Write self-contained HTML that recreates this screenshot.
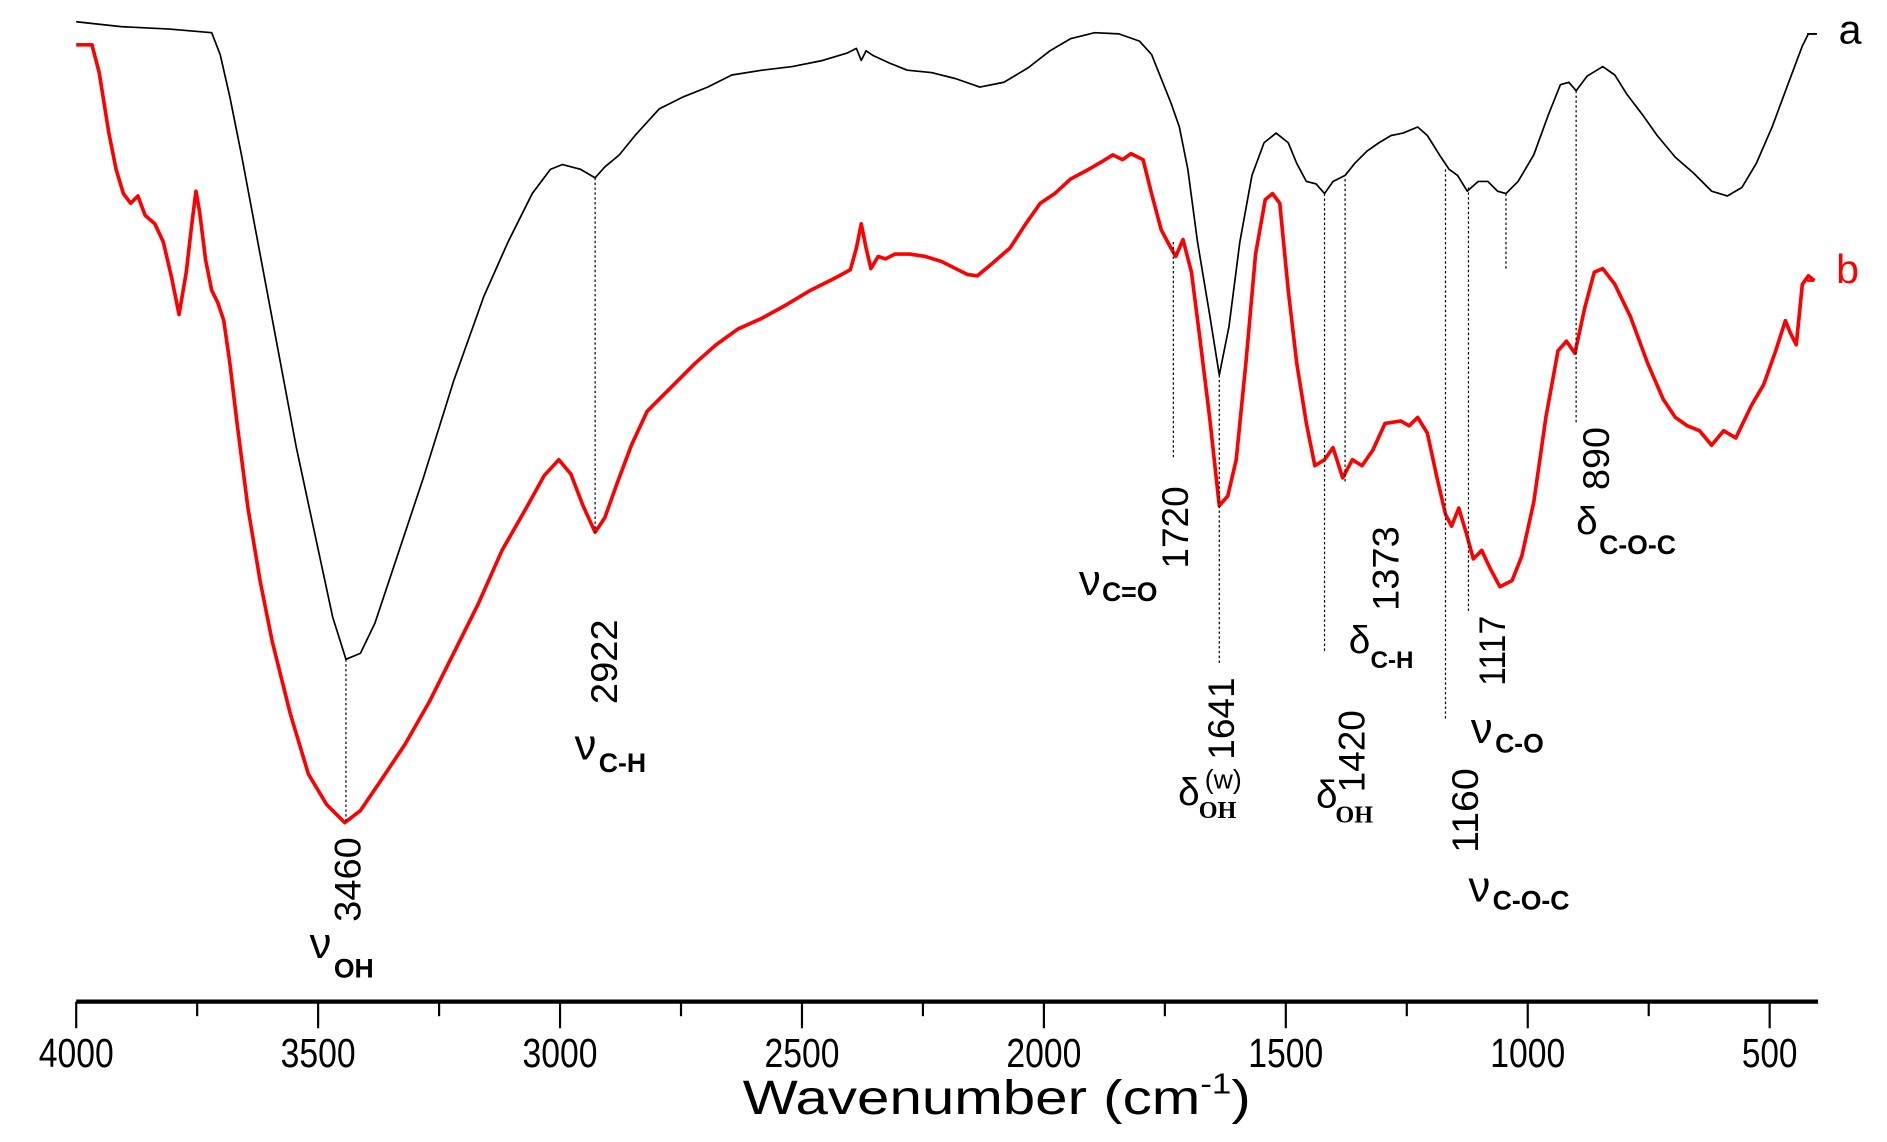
<!DOCTYPE html>
<html><head><meta charset="utf-8"><style>html,body{margin:0;padding:0;background:#fff}svg{display:block}</style></head>
<body>
<svg width="1887" height="1142" viewBox="0 0 1560 944" preserveAspectRatio="none" xmlns="http://www.w3.org/2000/svg" font-family="Liberation Sans, sans-serif">
<rect width="1560" height="944" fill="#fff"/>
<polyline fill="none" stroke="#000" stroke-width="1.4" stroke-linejoin="round" points="63,18 100,22 140,24 175,27 182,45 190,80 200,130 215,210 230,290 245,370 260,440 275,510 286,545 298,540 310,515 330,455 350,395 375,315 400,245 420,200 440,160 455,140 465,136 480,140 492,147 500,138 512,128 525,112 545,90 565,80 585,72 605,62 630,58 655,55 680,50 700,44 708,40 712,50 716,42 722,46 735,52 750,58 770,60 790,65 810,72 830,68 850,56 868,42 885,32 905,27 925,28 942,34 952,45 960,65 968,85 975,105 982,140 990,200 1000,260 1008,310 1016,270 1025,200 1035,145 1045,118 1055,110 1065,118 1072,135 1080,150 1088,152 1095,160 1102,150 1112,145 1120,135 1130,125 1140,118 1150,112 1160,110 1172,105 1180,112 1190,128 1198,140 1205,145 1213,158 1222,150 1230,150 1238,158 1245,160 1255,150 1268,128 1280,95 1290,70 1297,68 1303,75 1312,63 1325,55 1335,62 1345,78 1358,95 1370,112 1385,130 1400,143 1415,158 1428,162 1440,155 1452,135 1465,105 1478,70 1490,38 1495,28 1502,28"/>
<polyline fill="none" stroke="#f00" stroke-width="3" stroke-linejoin="round" points="63,37 76,37 82,60 90,110 96,140 102,160 108,168 114,162 120,178 128,185 135,200 142,230 148,260 154,225 158,190 162,158 165,175 170,215 175,240 180,250 185,265 190,300 196,350 205,420 215,480 225,530 240,590 255,640 270,665 285,680 298,670 315,645 335,615 355,580 375,540 395,500 415,455 435,420 450,393 462,380 472,392 482,418 492,440 500,428 510,400 522,368 535,340 548,327 560,315 575,300 592,285 610,272 630,263 650,252 670,240 690,230 703,223 708,205 712,185 716,205 720,222 726,212 732,214 740,210 752,210 765,212 778,216 790,222 800,227 808,228 820,218 835,205 848,185 860,168 872,160 885,148 900,140 912,133 920,128 928,132 935,127 945,132 952,160 960,190 968,205 972,212 978,198 985,225 992,280 1000,345 1008,418 1015,410 1022,380 1030,300 1038,210 1046,165 1052,160 1058,168 1065,240 1072,300 1080,350 1087,385 1095,380 1102,370 1110,395 1118,380 1126,385 1135,372 1145,350 1158,348 1165,352 1172,345 1180,358 1188,395 1195,425 1200,435 1206,420 1212,440 1218,462 1225,455 1232,470 1240,485 1250,480 1258,460 1268,415 1278,345 1288,290 1295,282 1302,292 1310,255 1318,225 1325,222 1335,235 1348,262 1362,300 1375,330 1385,345 1395,352 1405,356 1415,368 1425,356 1435,362 1448,335 1458,318 1468,290 1476,265 1480,275 1485,285 1490,235 1495,228 1500,232"/>
<g stroke="#000" stroke-width="1" stroke-dasharray="2,2" fill="none">
<line x1="286" y1="545" x2="286" y2="680"/>
<line x1="492" y1="147" x2="492" y2="440"/>
<line x1="970" y1="200" x2="970" y2="380"/>
<line x1="1008" y1="310" x2="1008" y2="548"/>
<line x1="1095" y1="160" x2="1095" y2="540"/>
<line x1="1112" y1="148" x2="1112" y2="400"/>
<line x1="1195" y1="140" x2="1195" y2="595"/>
<line x1="1214" y1="155" x2="1214" y2="505"/>
<line x1="1245" y1="160" x2="1245" y2="222"/>
<line x1="1303" y1="75" x2="1303" y2="350"/>
</g>
<g font-size="31" fill="#000">
<text transform="translate(298,762) rotate(-90)" textLength="70" lengthAdjust="spacingAndGlyphs">3460</text>
<text x="256" y="792" font-size="36">ν</text><text x="276" y="808" font-size="22" font-weight="bold">OH</text>
<text transform="translate(510,582) rotate(-90)" textLength="70" lengthAdjust="spacingAndGlyphs">2922</text>
<text x="475" y="628" font-size="36">ν</text><text x="495" y="638" font-size="22" font-weight="bold">C-H</text>
<text transform="translate(982,470) rotate(-90)" textLength="68" lengthAdjust="spacingAndGlyphs">1720</text>
<text x="892" y="492" font-size="36">ν</text><text x="911" y="497" font-size="22" font-weight="bold">C=O</text>
<text transform="translate(1020,628) rotate(-90)" textLength="68" lengthAdjust="spacingAndGlyphs">1641</text>
<text x="974" y="666" font-size="32">δ</text><text x="996" y="652" font-size="22">(w)</text><text x="991" y="676" font-size="20" font-weight="bold" font-family="Liberation Serif, serif">OH</text>
<text transform="translate(1128,655) rotate(-90)" textLength="68" lengthAdjust="spacingAndGlyphs">1420</text>
<text x="1088" y="668" font-size="32">δ</text><text x="1104" y="680" font-size="20" font-weight="bold" font-family="Liberation Serif, serif">OH</text>
<text transform="translate(1156,505) rotate(-90)" textLength="70" lengthAdjust="spacingAndGlyphs">1373</text>
<text x="1115" y="540" font-size="32">δ</text><text x="1133" y="552" font-size="20" font-weight="bold">C-H</text>
<text transform="translate(1222,705) rotate(-90)" textLength="70" lengthAdjust="spacingAndGlyphs">1160</text>
<text x="1214" y="745" font-size="36">ν</text><text x="1234" y="752" font-size="22" font-weight="bold">C-O-C</text>
<text transform="translate(1244,567) rotate(-90)" textLength="58" lengthAdjust="spacingAndGlyphs">1117</text>
<text x="1216" y="614" font-size="36">ν</text><text x="1236" y="622" font-size="22" font-weight="bold">C-O</text>
<text transform="translate(1330,405) rotate(-90)" textLength="52" lengthAdjust="spacingAndGlyphs">890</text>
<text x="1303" y="442" font-size="32">δ</text><text x="1322" y="458" font-size="22" font-weight="bold">C-O-C</text>
<text x="1520" y="36" font-size="34">a</text>
<text x="1518" y="234" font-size="34" fill="#f00">b</text>
</g>
<line x1="1494" y1="28" x2="1502" y2="28" stroke="#000" stroke-width="1.5"/>
<line x1="1494" y1="232" x2="1500" y2="232" stroke="#f00" stroke-width="2"/>
<line x1="63" y1="828" x2="1503" y2="828" stroke="#000" stroke-width="3.5"/>
<g stroke="#000" stroke-width="1.8">
<line x1="63" y1="828" x2="63" y2="850"/><line x1="263" y1="828" x2="263" y2="850"/><line x1="463" y1="828" x2="463" y2="850"/><line x1="663" y1="828" x2="663" y2="850"/><line x1="863" y1="828" x2="863" y2="850"/><line x1="1063" y1="828" x2="1063" y2="850"/><line x1="1263" y1="828" x2="1263" y2="850"/><line x1="1463" y1="828" x2="1463" y2="850"/>
<line x1="163" y1="828" x2="163" y2="840"/><line x1="363" y1="828" x2="363" y2="840"/><line x1="563" y1="828" x2="563" y2="840"/><line x1="763" y1="828" x2="763" y2="840"/><line x1="963" y1="828" x2="963" y2="840"/><line x1="1163" y1="828" x2="1163" y2="840"/><line x1="1363" y1="828" x2="1363" y2="840"/>
</g>
<g font-size="34" text-anchor="middle" fill="#000">
<text x="63" y="882" textLength="62" lengthAdjust="spacingAndGlyphs">4000</text>
<text x="263" y="882" textLength="62" lengthAdjust="spacingAndGlyphs">3500</text>
<text x="463" y="882" textLength="62" lengthAdjust="spacingAndGlyphs">3000</text>
<text x="663" y="882" textLength="62" lengthAdjust="spacingAndGlyphs">2500</text>
<text x="863" y="882" textLength="62" lengthAdjust="spacingAndGlyphs">2000</text>
<text x="1063" y="882" textLength="62" lengthAdjust="spacingAndGlyphs">1500</text>
<text x="1263" y="882" textLength="62" lengthAdjust="spacingAndGlyphs">1000</text>
<text x="1463" y="882" textLength="46" lengthAdjust="spacingAndGlyphs">500</text>
</g>
<text x="614" y="921" font-size="40" textLength="420" lengthAdjust="spacingAndGlyphs">Wavenumber (cm<tspan font-size="24" dy="-17">-1</tspan><tspan dy="17">)</tspan></text>
</svg>
</body></html>
